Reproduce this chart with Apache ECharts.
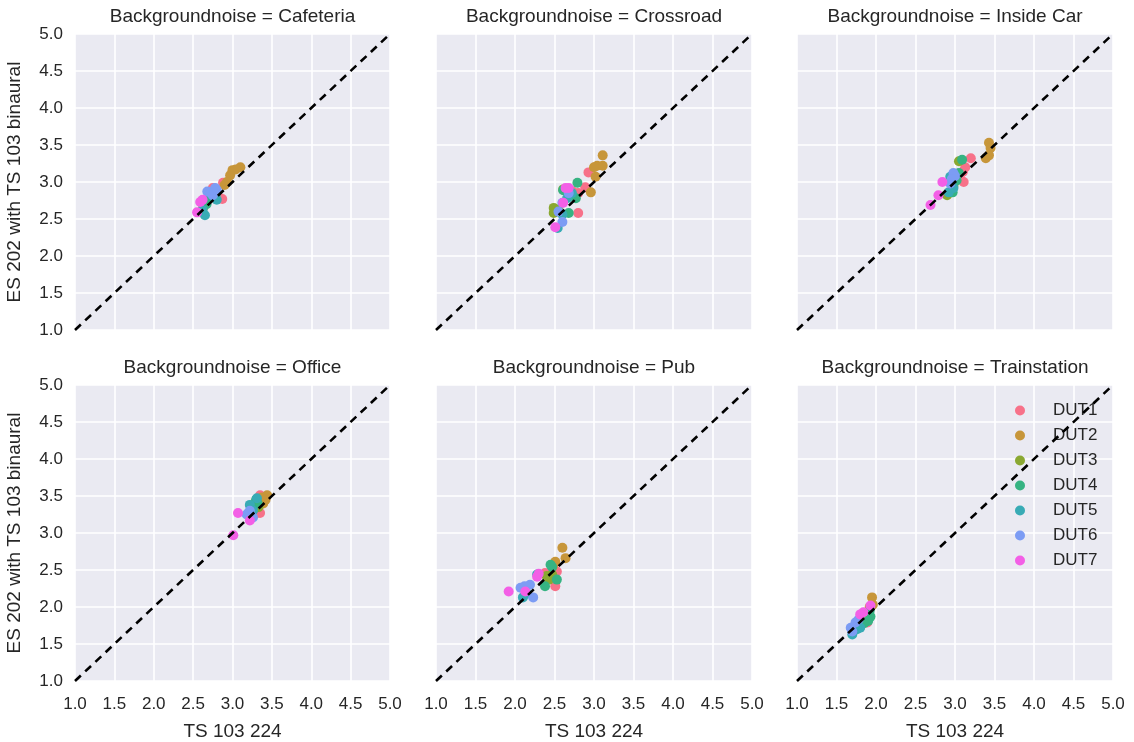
<!DOCTYPE html>
<html>
<head>
<meta charset="utf-8">
<title>ES 202 vs TS 103 224</title>
<script src="https://cdn.jsdelivr.net/npm/echarts@6/dist/echarts.min.js"></script>
<style>
  html, body { margin: 0; padding: 0; background: #fff; }
  #main { width: 1134px; height: 742px; }
</style>
</head>
<body>
<div id="main"></div>
<script>
// 数据: 每个点 [DUT序号, TS 103 224, ES 202 with TS 103 binaural]
var duts = ["DUT1", "DUT2", "DUT3", "DUT4", "DUT5", "DUT6", "DUT7"];
var dutColors = ["#f77189", "#c7963a", "#8aa832", "#36b382", "#38abb5", "#7c9cf4", "#f35fe6"];
var panels = ["Cafeteria", "Crossroad", "Inside Car", "Office", "Pub", "Trainstation"];
var ticks = [1.0, 1.5, 2.0, 2.5, 3.0, 3.5, 4.0, 4.5, 5.0];

var cafeteria = [
  [1, 2.88, 2.99], [1, 2.75, 2.92], [1, 2.87, 2.77], [1, 2.82, 2.80], [1, 2.70, 2.84],
  [2, 3.00, 3.16], [2, 3.10, 3.20], [2, 2.97, 3.09], [2, 2.93, 3.00], [2, 3.04, 3.17], [2, 2.90, 2.96],
  [3, 2.63, 2.66], [3, 2.66, 2.72], [3, 2.72, 2.80],
  [4, 2.70, 2.78], [4, 2.76, 2.86], [4, 2.67, 2.70], [4, 2.79, 2.84],
  [5, 2.65, 2.55], [5, 2.80, 2.76], [5, 2.74, 2.82], [5, 2.62, 2.62],
  [6, 2.68, 2.87], [6, 2.80, 2.89], [6, 2.75, 2.82], [6, 2.72, 2.86], [6, 2.78, 2.92],
  [7, 2.59, 2.73], [7, 2.55, 2.59], [7, 2.62, 2.76]
];
var crossroad = [
  [1, 2.93, 3.13], [1, 2.89, 2.93], [1, 2.80, 2.58], [1, 2.80, 2.85], [1, 2.72, 2.88],
  [2, 3.11, 3.36], [2, 3.04, 3.22], [2, 3.11, 3.22], [2, 3.02, 3.07], [2, 2.96, 2.86], [2, 3.00, 3.20],
  [3, 2.49, 2.65], [3, 2.49, 2.58], [3, 2.61, 2.90], [3, 2.55, 2.62],
  [4, 2.79, 2.99], [4, 2.68, 2.58], [4, 2.77, 2.78], [4, 2.61, 2.89], [4, 2.72, 2.82],
  [5, 2.54, 2.38], [5, 2.72, 2.85], [5, 2.60, 2.56], [5, 2.66, 2.78],
  [6, 2.60, 2.46], [6, 2.60, 2.72], [6, 2.68, 2.85], [6, 2.55, 2.60],
  [7, 2.51, 2.39], [7, 2.61, 2.72], [7, 2.68, 2.92], [7, 2.64, 2.92]
];
var insideCar = [
  [1, 3.20, 3.32], [1, 3.13, 3.20], [1, 3.11, 3.00], [1, 3.10, 3.14], [1, 3.06, 3.08],
  [2, 3.43, 3.53], [2, 3.45, 3.46], [2, 3.43, 3.36], [2, 3.39, 3.32],
  [3, 3.05, 3.28], [3, 2.90, 2.82], [3, 2.98, 2.95],
  [4, 3.09, 3.30], [4, 3.05, 3.12], [4, 2.97, 2.86], [4, 3.02, 3.02],
  [5, 2.94, 3.07], [5, 2.92, 2.86], [5, 2.98, 2.92],
  [6, 2.98, 3.12], [6, 2.94, 2.98], [6, 3.00, 3.08], [6, 2.96, 3.04],
  [7, 2.84, 3.00], [7, 2.79, 2.82], [7, 2.69, 2.69]
];
var office = [
  [1, 3.35, 3.51], [1, 3.35, 3.27], [1, 3.30, 3.38], [1, 3.28, 3.25],
  [2, 3.44, 3.51], [2, 3.37, 3.48], [2, 3.39, 3.40], [2, 3.42, 3.45],
  [3, 3.33, 3.35], [3, 3.28, 3.40],
  [4, 3.30, 3.45], [4, 3.25, 3.33], [4, 3.32, 3.40],
  [5, 3.31, 3.47], [5, 3.22, 3.38], [5, 3.26, 3.30],
  [6, 3.20, 3.27], [6, 3.26, 3.21], [6, 3.22, 3.30], [6, 3.18, 3.25],
  [7, 3.07, 3.27], [7, 3.22, 3.17], [7, 3.01, 2.97]
];
var pub = [
  [1, 2.53, 2.48], [1, 2.51, 2.28], [1, 2.38, 2.46], [1, 2.45, 2.40],
  [2, 2.60, 2.80], [2, 2.64, 2.66], [2, 2.51, 2.61], [2, 2.48, 2.55],
  [3, 2.43, 2.37], [3, 2.47, 2.44], [3, 2.40, 2.42],
  [4, 2.47, 2.54], [4, 2.53, 2.37], [4, 2.38, 2.28], [4, 2.45, 2.57],
  [5, 2.10, 2.13], [5, 2.28, 2.44], [5, 2.15, 2.18],
  [6, 2.07, 2.26], [6, 2.19, 2.30], [6, 2.23, 2.13], [6, 2.12, 2.28],
  [7, 1.92, 2.21], [7, 2.13, 2.21], [7, 2.28, 2.41], [7, 2.30, 2.45]
];
var trainstation = [
  [1, 1.89, 1.79], [1, 1.85, 1.88], [1, 1.80, 1.84],
  [2, 1.95, 2.13], [2, 1.96, 2.03], [2, 1.92, 2.00],
  [3, 1.86, 1.86], [3, 1.90, 1.92],
  [4, 1.93, 1.87], [4, 1.90, 1.81], [4, 1.92, 1.95], [4, 1.85, 1.78],
  [5, 1.70, 1.63], [5, 1.80, 1.72], [5, 1.76, 1.70],
  [6, 1.74, 1.79], [6, 1.70, 1.67], [6, 1.78, 1.83], [6, 1.68, 1.72],
  [7, 1.93, 2.02], [7, 1.84, 1.93], [7, 1.80, 1.90]
];
var panelData = [cafeteria, crossroad, insideCar, office, pub, trainstation];

(function() {
  var myChart = echarts.init(document.getElementById("main"));
  var font = "Liberation Sans, Arial, sans-serif";
  var textColor = "#262626";

  // 每个小图的位置
  var lefts = [75, 436, 797];
  var widths = [315, 316, 316];
  var tops = [34, 385];
  var heights = [296, 297];

  var grids = [], xAxes = [], yAxes = [], titles = [], series = [];
  for (var p = 0; p < 6; p++) {
    var col = p % 3, row = Math.floor(p / 3);
    grids.push({
      left: lefts[col], top: tops[row], width: widths[col], height: heights[row],
      show: true, backgroundColor: "#eaeaf2", borderWidth: 0
    });
    titles.push({
      text: "Backgroundnoise = " + panels[p],
      left: lefts[col] + widths[col] / 2,
      top: tops[row] - 27,
      textAlign: "center",
      padding: 0,
      textStyle: { fontFamily: font, fontSize: 19, fontWeight: "normal", color: textColor }
    });
    xAxes.push({
      type: "value", gridIndex: p, min: ticks[0], max: ticks[ticks.length - 1], interval: 0.5,
      axisLine: { show: false }, axisTick: { show: false },
      splitLine: { lineStyle: { color: "#ffffff", width: 1.6 } },
      axisLabel: {
        show: row === 1, margin: 15, color: textColor, fontFamily: font, fontSize: 17,
        formatter: function(v) { return v.toFixed(1); }
      },
      name: row === 1 ? "TS 103 224" : "", nameLocation: "middle", nameGap: 41,
      nameTextStyle: { fontFamily: font, fontSize: 19, color: textColor }
    });
    yAxes.push({
      type: "value", gridIndex: p, min: ticks[0], max: ticks[ticks.length - 1], interval: 0.5,
      axisLine: { show: false }, axisTick: { show: false },
      splitLine: { lineStyle: { color: "#ffffff", width: 1.6 } },
      axisLabel: {
        show: col === 0, margin: 12, color: textColor, fontFamily: font, fontSize: 17,
        formatter: function(v) { return v.toFixed(1); }
      },
      name: col === 0 ? "ES 202 with TS 103 binaural" : "", nameLocation: "middle", nameGap: 51,
      nameRotate: 90,
      nameTextStyle: { fontFamily: font, fontSize: 19, color: textColor }
    });

    for (var d = 0; d < duts.length; d++) {
      var pts = [];
      panelData[p].forEach(function(r) {
        if (r[0] === d + 1) pts.push([r[1], r[2]]);
      });
      series.push({
        name: duts[d], type: "scatter", xAxisIndex: p, yAxisIndex: p,
        symbolSize: 10, data: pts, z: 2,
        itemStyle: { color: dutColors[d], opacity: 1 }
      });
    }
    // 对角虚线
    series.push({
      type: "line", xAxisIndex: p, yAxisIndex: p, z: 5, silent: true,
      symbol: "none", data: [[ticks[0], ticks[0]], [ticks[8], ticks[8]]],
      lineStyle: { color: "#000", width: 2.6, type: [8, 6] }
    });
  }

  var option = {
    animation: false,
    title: titles,
    grid: grids,
    xAxis: xAxes,
    yAxis: yAxes,
    legend: {
      data: duts, orient: "vertical", left: 1010, top: 397,
      icon: "circle", itemWidth: 10, itemHeight: 10, itemGap: 8,
      textStyle: { fontFamily: font, fontSize: 17, color: textColor, lineHeight: 17, padding: [0, 0, 0, 23] }
    },
    series: series
  };
  myChart.setOption(option);
  window.addEventListener("resize", function() {
    myChart.resize();
  });
})();
</script>
</body>
</html>
